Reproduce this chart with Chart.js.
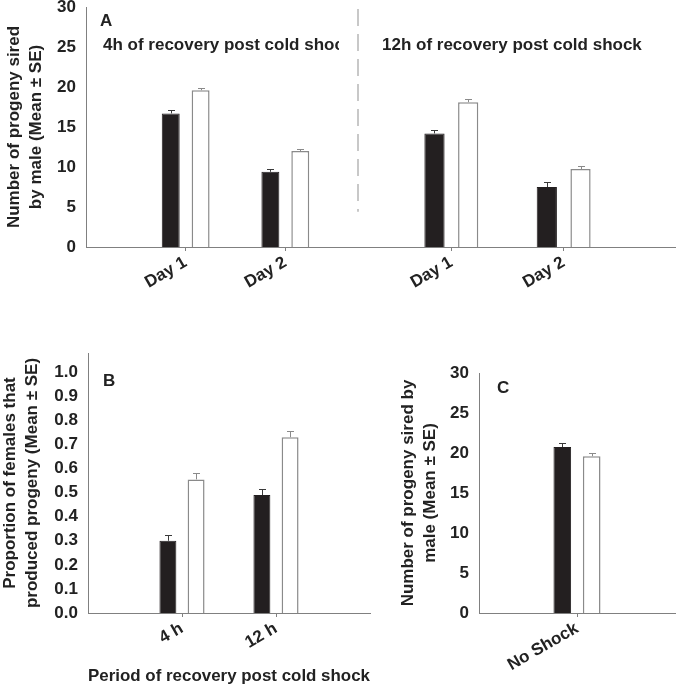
<!DOCTYPE html>
<html>
<head>
<meta charset="utf-8">
<title>Progeny sired after cold shock</title>
<script src="https://cdn.jsdelivr.net/npm/chart.js@4.4.1/dist/chart.umd.min.js"></script>
<style>
  body { margin: 0; background: #fff; }
  #wrap { position: relative; width: 676px; height: 687px; overflow: hidden; background: #fff; }
  canvas { position: absolute; }
</style>
</head>
<body>
<div id="wrap">
  <canvas id="chartA4" width="385" height="300" style="left:0;top:0"></canvas>
  <canvas id="chartA12" width="337" height="300" style="left:339px;top:0"></canvas>
  <canvas id="chartB" width="380" height="367" style="left:0;top:320px"></canvas>
  <canvas id="chartC" width="296" height="367" style="left:380px;top:320px"></canvas>
</div>
<script>
// categories
const dayCats = ["Day 1", "Day 2"];
const hourCats = ["4 h", "12 h"];
const shockCats = ["No Shock"];

// A - 4h of recovery (dark / open bars, mean and SE)
const a4Dark = [16.7, 9.4];
const a4DarkSE = [0.4, 0.4];
const a4Open = [19.6, 12.0];
const a4OpenSE = [0.3, 0.3];

// A - 12h of recovery
const a12Dark = [14.2, 7.5];
const a12DarkSE = [0.4, 0.6];
const a12Open = [18.1, 9.75];
const a12OpenSE = [0.4, 0.35];

// B - proportion of females that produced progeny
const bDark = [0.30, 0.49];
const bDarkSE = [0.025, 0.025];
const bOpen = [0.555, 0.73];
const bOpenSE = [0.025, 0.024];

// C - no shock
const cDark = [20.75];
const cDarkSE = [0.5];
const cOpen = [19.6];
const cOpenSE = [0.45];

// y tick labels
const progenyTicks = [0, 5, 10, 15, 20, 25, 30];
const proportionTicks = [0, 0.1, 0.2, 0.3, 0.4, 0.5, 0.6, 0.7, 0.8, 0.9, 1.0];

const DARK = "#231f20";
const GREY = "#8a8a8a";
const AXIS = "#808080";
const TEXT = "#222";
const FAMILY = "'Liberation Sans', Arial, sans-serif";
const textFont = { family: FAMILY, size: 17, weight: "bold", lineHeight: 1.25 };

Chart.defaults.font.family = FAMILY;

// empty slot at both ends so the groups sit where the original axis put them
const pad = arr => [null, ...arr, null];

const whiteBg = {
  id: "whiteBg",
  beforeDraw(chart) {
    const ctx = chart.ctx;
    ctx.save();
    ctx.fillStyle = "#fff";
    ctx.fillRect(0, 0, chart.width, chart.height);
    ctx.restore();
  }
};

// upper whisker (mean + SE) with a small cap
const errorBars = {
  id: "errorBars",
  afterDatasetsDraw(chart) {
    const ctx = chart.ctx;
    const y = chart.scales.y;
    chart.data.datasets.forEach((ds, i) => {
      const meta = chart.getDatasetMeta(i);
      meta.data.forEach((bar, j) => {
        const v = ds.data[j];
        const se = ds.se[j];
        if (v == null || se == null) return;
        const x = Math.round(bar.x) + 0.5;
        const top = Math.round(y.getPixelForValue(v + se)) + 0.5;
        ctx.save();
        ctx.strokeStyle = ds.errColor;
        ctx.lineWidth = 1;
        ctx.beginPath();
        ctx.moveTo(x, bar.y);
        ctx.lineTo(x, top);
        ctx.moveTo(x - 3.5, top);
        ctx.lineTo(x + 3.5, top);
        ctx.stroke();
        ctx.restore();
      });
    });
  }
};

// panel letter, heading and the dashed divider
const notes = {
  id: "notes",
  afterDraw(chart, args, opts) {
    const { ctx, chartArea } = chart;
    ctx.save();
    ctx.fillStyle = TEXT;
    ctx.font = "bold 17px " + FAMILY;
    ctx.textBaseline = "middle";
    if (opts.letter) {
      ctx.fillText(opts.letter, chartArea.left + opts.letterDx, chartArea.top + opts.letterDy);
    }
    if (opts.heading) {
      ctx.fillText(opts.heading, chartArea.left + opts.headingDx, chartArea.top + opts.headingDy);
    }
    if (opts.divider) {
      const x = chartArea.left + opts.divider;
      ctx.strokeStyle = "#c8c8c8";
      ctx.lineWidth = 2;
      ctx.setLineDash([17, 8]);
      ctx.beginPath();
      ctx.moveTo(x, chartArea.top + 2);
      ctx.lineTo(x, chart.scales.y.getPixelForValue(4.4));
      ctx.stroke();
    }
    ctx.restore();
  }
};

function makePanel(id, o) {
  const labels = ["", ...o.cats, ""];
  const showY = o.showY !== false;
  return new Chart(document.getElementById(id), {
    type: "bar",
    data: {
      labels: labels,
      datasets: [
        {
          data: pad(o.dark), se: pad(o.darkSE), errColor: "#3a3a3a",
          backgroundColor: DARK, borderColor: DARK, borderWidth: 1
        },
        {
          data: pad(o.open), se: pad(o.openSE), errColor: GREY,
          backgroundColor: "#fff", borderColor: GREY, borderWidth: 1.5
        }
      ]
    },
    options: {
      responsive: false,
      animation: false,
      events: [],
      layout: { padding: o.padding },
      datasets: { bar: { categoryPercentage: 0.6, barPercentage: 0.6 } },
      plugins: {
        legend: { display: false },
        tooltip: { enabled: false },
        notes: o.notes
      },
      scales: {
        x: {
          offset: false,
          grid: {
            offset: false,
            drawOnChartArea: false,
            tickLength: 4,
            color: c => labels[c.index] ? AXIS : "rgba(0,0,0,0)"
          },
          border: { color: AXIS },
          ticks: {
            autoSkip: false, minRotation: 30, maxRotation: 30,
            padding: 1, font: textFont, color: TEXT
          },
          title: {
            display: !!o.xTitle, text: o.xTitle || "",
            font: textFont, color: TEXT, padding: { top: 0, bottom: 0 }
          },
          afterFit: s => { s.height = o.xHeight; s.paddingLeft = 0; s.paddingRight = 0; }
        },
        y: {
          display: showY,
          min: 0,
          max: o.yMax,
          afterBuildTicks: s => { s.ticks = o.yTicks.map(v => ({ value: v })); },
          grid: { display: false, drawTicks: false },
          border: { color: AXIS },
          ticks: { padding: 10, font: textFont, color: TEXT, callback: v => o.fmt(v) },
          title: {
            display: !!o.yTitle, text: o.yTitle || "",
            font: textFont, color: TEXT, padding: { top: o.titlePad || 0, bottom: 0 }
          },
          afterFit: s => {
            s.width = showY ? o.yWidth : 0;
            s.paddingTop = 0;
            s.paddingBottom = 0;
          }
        }
      }
    },
    plugins: [whiteBg, errorBars, notes]
  });
}

// A, left half
makePanel("chartA4", {
  cats: dayCats, dark: a4Dark, darkSE: a4DarkSE, open: a4Open, openSE: a4OpenSE,
  yMax: 30, yTicks: progenyTicks, fmt: v => String(v),
  yTitle: ["Number of progeny sired", "by male (Mean \u00b1 SE)"], titlePad: 4,
  yWidth: 86, xHeight: 53,
  padding: { top: 7, right: 0, bottom: 0, left: 0 },
  notes: {
    letter: "A", letterDx: 14, letterDy: 14,
    heading: "4h of recovery post cold shock", headingDx: 17, headingDy: 38.5
  }
});

// A, right half (shares the left y axis, none of its own)
makePanel("chartA12", {
  cats: dayCats, dark: a12Dark, darkSE: a12DarkSE, open: a12Open, openSE: a12OpenSE,
  yMax: 30, yTicks: progenyTicks, fmt: v => String(v), showY: false,
  xHeight: 53,
  padding: { top: 7, right: 0, bottom: 0, left: 0 },
  notes: {
    heading: "12h of recovery post cold shock", headingDx: 43, headingDy: 38,
    divider: 19
  }
});

// B
makePanel("chartB", {
  cats: hourCats, dark: bDark, darkSE: bDarkSE, open: bOpen, openSE: bOpenSE,
  yMax: 1.08, yTicks: proportionTicks, fmt: v => v.toFixed(1),
  yTitle: ["Proportion of females that", "produced progeny (Mean \u00b1 SE)"], titlePad: 0,
  xTitle: "Period of recovery post cold shock",
  yWidth: 88, xHeight: 74,
  padding: { top: 33, right: 10, bottom: 0, left: 0 },
  notes: { letter: "B", letterDx: 15, letterDy: 28 }
});

// C
makePanel("chartC", {
  cats: shockCats, dark: cDark, darkSE: cDarkSE, open: cOpen, openSE: cOpenSE,
  yMax: 30, yTicks: progenyTicks, fmt: v => String(v),
  yTitle: ["Number of progeny sired by", "male (Mean \u00b1 SE)"], titlePad: 18,
  yWidth: 99, xHeight: 74,
  padding: { top: 53, right: 1, bottom: 0, left: 0 },
  notes: { letter: "C", letterDx: 18, letterDy: 15 }
});
</script>
</body>
</html>
